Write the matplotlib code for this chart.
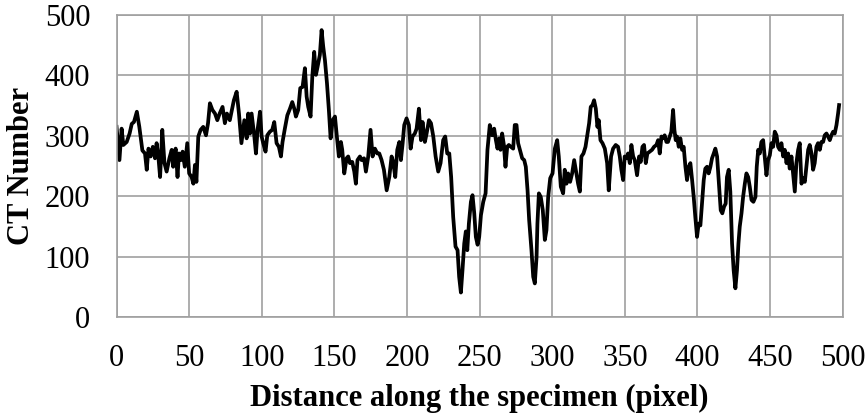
import matplotlib.pyplot as plt

# CT number profile along the specimen
distance = [
    0, 2, 3.5, 4.7, 7, 9, 10.5, 12, 14, 15.7, 17.8, 19.6, 20.8, 22, 23.5, 25,
    26.5, 27.6, 28.8, 30, 31.5, 33, 34.5, 36.4, 38, 39, 40.7, 42, 43, 44.4,
    45.5, 47, 48.7, 50, 51.7, 52.9, 54, 55, 56.3, 57.9, 59.7, 61.6, 63, 64.3,
    66, 67.8, 69.4, 71, 73, 74.6, 76, 78, 79.7, 80.8, 82.7, 84.3, 86, 88,
    89.6, 90.7, 91.9, 93, 94.9, 96, 97.1, 98.8, 99.9, 101, 102.6, 103.8,
    105.6, 107.2, 108.6, 110.2, 111.8, 113.2, 114.3, 115.9, 117.6, 119.4,
    121, 122.4, 123.5, 125.1, 126.5, 128.1, 129.7, 130.9, 132, 133.6, 134.8,
    136.1, 137.3, 138.4, 140, 141.2, 142.3, 143.5, 144.9, 146.2, 147.4,
    148.8, 150.4, 151.7, 153.1, 154.5, 155.4, 156.8, 158.4, 159.5, 160.7,
    162.3, 163.7, 164.8, 165.9, 167.6, 168.7, 170.4, 171.7, 173.3, 174.9,
    176.3, 177.9, 179.5, 180.9, 182.5, 184.1, 186, 187.8, 189.4, 190.5,
    191.9, 193.3, 194.7, 195.8, 197, 198.1, 199.7, 201.3, 202.5, 203.8,
    205.4, 206.6, 208.2, 209.6, 210.7, 212.3, 213.5, 215.1, 216.5, 218.1,
    219.7, 221.5, 223.1, 224.9, 226.3, 227.7, 229.1, 230.4, 231.8, 233.4,
    234.8, 235.9, 237.1, 238.2, 239.4, 240.5, 241.5, 242.6, 244, 245.1,
    246.3, 247.4, 248.6, 249.7, 250.9, 252.5, 254.1, 255.4, 257, 258.6, 260,
    261.2, 262.3, 263.5, 264.4, 265.5, 266.7, 267.8, 269, 270.1, 271.5,
    273.1, 274.2, 275.4, 276.5, 278.1, 279.3, 280.7, 281.8, 283, 284.1,
    285.7, 286.9, 288, 289.2, 289.8, 290.8, 292.1, 293.5, 294.9, 296, 297.2,
    298.6, 300.2, 301.8, 303.4, 304.5, 305.9, 307.5, 308.6, 309.8, 310.9,
    312.3, 313.7, 315.1, 316.2, 317.8, 319, 320.1, 321.5, 322.9, 324, 325.4,
    326.5, 327.7, 328.8, 330, 331.1, 332, 333.2, 334.6, 336.2, 337.8, 338.9,
    340.5, 341.9, 343.7, 345.3, 346.5, 347.6, 348.8, 349.9, 351.1, 352.2,
    353.4, 354.5, 355.7, 356.8, 358.4, 359.8, 360.9, 362.1, 363.2, 364.4,
    365.5, 367.1, 368.7, 370.1, 371.7, 372.9, 374, 375.2, 376.3, 377.4,
    378.6, 379.7, 380.9, 382, 383.2, 384.1, 385, 385.9, 387.1, 388.2, 389.4,
    390.5, 391.7, 392.8, 394, 395.1, 396.3, 397.4, 398.5, 399.7, 400.8, 402,
    403.1, 404.3, 405.4, 406.6, 407.7, 408.9, 410, 411.2, 412.3, 413.5,
    414.6, 416, 417.1, 418.3, 419.4, 420.3, 421.5, 422.6, 423.8, 424.9,
    426.1, 427.2, 428.2, 429.1, 430.3, 431.4, 432.6, 433.7, 434.9, 436,
    437.2, 438.5, 439.9, 440.8, 441.8, 442.9, 444, 445.2, 446.3, 447.5,
    448.6, 449.8, 450.9, 452.1, 453.2, 454.4, 455.5, 456.7, 457.8, 459,
    460.1, 461.3, 462.4, 463.5, 464.7, 465.8, 467, 468.1, 469.3, 470.4,
    471.6, 472.7, 473.9, 475, 476.2, 477.3, 478.5, 479.6, 480.7, 481.9, 483,
    484.2, 485.3, 486.5, 487.6, 488.8, 489.9, 491.1, 492.2, 493.4, 494.5,
    495.7, 496.8, 497.5,
]
ct_number = [
    315, 260, 312, 285, 290, 304, 320, 323, 340, 315, 276, 271, 244, 279,
    266, 282, 263, 288, 266, 232, 310, 255, 241, 263, 277, 249, 279, 232,
    271, 260, 274, 249, 288, 238, 232, 221, 252, 224, 299, 310, 315, 301,
    321, 354, 343, 337, 326, 337, 348, 321, 337, 326, 346, 359, 373, 337,
    288, 326, 296, 337, 304, 337, 299, 271, 310, 340, 299, 288, 274, 301,
    307, 310, 323, 288, 282, 266, 290, 312, 334, 345, 356, 345, 332, 343,
    379, 381, 412, 365, 348, 332, 398, 439, 401, 414, 434, 475, 448, 425,
    387, 343, 296, 326, 332, 299, 266, 290, 277, 238, 263, 266, 255, 257,
    241, 221, 260, 266, 260, 263, 241, 266, 310, 266, 279, 271, 271, 260,
    244, 210, 232, 266, 257, 232, 277, 290, 260, 288, 318, 329, 318, 279,
    299, 304, 312, 345, 293, 323, 290, 304, 326, 321, 299, 266, 241, 255,
    293, 299, 271, 271, 232, 166, 117, 111, 67, 41, 78, 122, 142, 111, 155,
    191, 202, 172, 133, 120, 133, 169, 191, 205, 277, 318, 301, 312, 293,
    279, 296, 277, 304, 285, 249, 282, 285, 282, 279, 318, 318, 288, 274,
    263, 260, 249, 210, 161, 111, 67, 56, 100, 155, 205, 199, 177, 128,
    144, 199, 230, 238, 279, 293, 266, 216, 205, 244, 221, 238, 224, 238,
    260, 244, 221, 208, 266, 271, 282, 299, 321, 348, 351, 359, 345, 315,
    326, 293, 288, 279, 255, 210, 266, 279, 285, 282, 266, 244, 227, 266,
    263, 271, 255, 285, 266, 260, 235, 266, 257, 282, 285, 255, 271, 274,
    277, 282, 285, 293, 271, 299, 296, 301, 290, 290, 299, 307, 343, 310,
    293, 299, 282, 296, 277, 282, 249, 227, 249, 255, 227, 199, 166, 133,
    155, 152, 188, 227, 246, 249, 238, 249, 263, 271, 279, 266, 227, 177,
    172, 183, 188, 232, 244, 208, 122, 78, 48, 78, 122, 150, 172, 199, 221,
    238, 232, 216, 194, 191, 199, 249, 277, 271, 290, 293, 266, 235, 260,
    268, 288, 282, 307, 301, 282, 277, 288, 266, 277, 255, 271, 246, 266,
    238, 208, 255, 277, 288, 221, 230, 224, 249, 277, 285, 271, 244, 255,
    282, 288, 277, 290, 290, 301, 304, 299, 293, 301, 307, 304, 318, 337,
    351,
]

x_ticks = list(range(0, 501, 50))
y_ticks = list(range(0, 501, 100))

plt.rcParams['font.family'] = ['Liberation Serif', 'DejaVu Serif']

fig = plt.figure(figsize=(8.67, 4.15), dpi=100)
ax = fig.add_axes((0.1344, 0.2354, 0.8376, 0.7285))

ax.plot(distance, ct_number, color='black', linewidth=2.7, solid_joinstyle='round')

ax.set_xlim(0, 500)
ax.set_ylim(0, 500)
ax.set_xticks(x_ticks)
ax.set_yticks(y_ticks)
ax.tick_params(length=0, labelsize=22, colors='black')
ax.tick_params(axis='y', pad=19)
ax.tick_params(axis='x', pad=19)
ax.grid(True, color='#a0a0a0', linewidth=1.2)
ax.set_axisbelow(True)
for spine in ax.spines.values():
    spine.set_color('#a0a0a0')
    spine.set_linewidth(1.2)

ax.set_xlabel("Distance along the specimen (pixel)", fontsize=22,
              fontweight='bold', labelpad=8)
ax.set_ylabel("CT Number", fontsize=22, fontweight='bold', labelpad=6)

fig.savefig("out.png", dpi=100)
